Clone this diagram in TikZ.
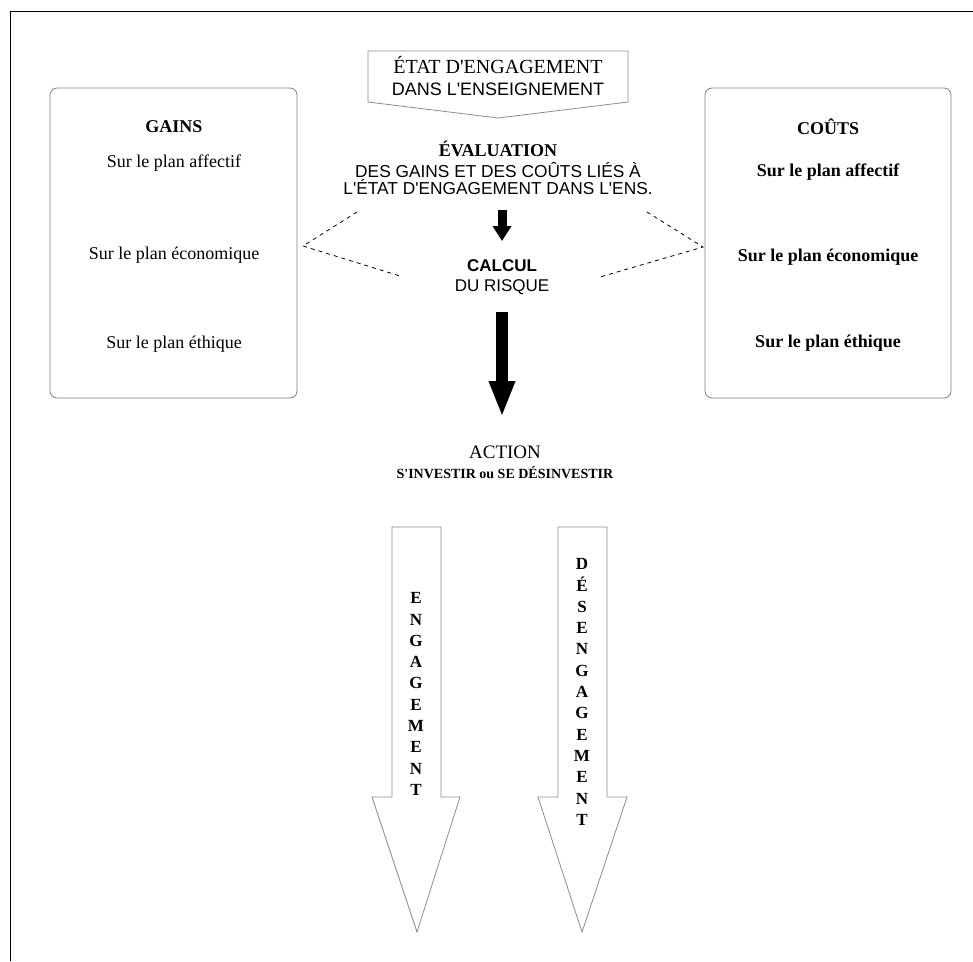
\documentclass[tikz,border=0pt]{standalone}
\usepackage{fontspec}
\setmainfont{Liberation Serif}
\setsansfont{Liberation Sans}
\usetikzlibrary{arrows.meta}
\newcommand{\apos}{\textquotesingle}
\begin{document}
\begin{tikzpicture}[x=1pt,y=-1pt]
	\tikzstyle{plan}=[font=\fontsize{18}{21}\selectfont,inner sep=0pt]
	\tikzstyle{planbold}=[font=\fontsize{18}{21}\selectfont\bfseries,inner sep=0pt]
	\tikzstyle{titre}=[font=\fontsize{18}{21}\selectfont\bfseries,inner sep=0pt]
	\tikzstyle{pbox}=[draw=black!50,line width=0.8pt,rounded corners=7pt]
	%\tikzstyle{pbox}=[draw=black,rounded corners=7pt]
	\tikzstyle{hollow}=[draw=black!45,line width=0.8pt]
	\tikzstyle{letters}=[font=\fontsize{17}{21.3}\selectfont\bfseries,align=center,inner sep=0pt]
	\tikzstyle{risk} = [dashed,line width=0.8pt,dash pattern=on 4pt off 4pt]
	\useasboundingbox (0,0) rectangle (973,961);
	\draw[line width=1pt] (10,961) -- (10,11) -- (973,11);
	% etat d'engagement
	\draw[hollow] (368,51) -- (628,51) -- (628,102) -- (498,118) -- (368,102) -- cycle;
	\node[align=center,inner sep=0pt,font=\fontsize{20}{22}\selectfont] (etat) at (498,76)
		{\'ETAT D\apos ENGAGEMENT\\ \fontsize{18}{22}\selectfont\sffamily DANS L\apos ENSEIGNEMENT};
	% gains and couts
	\draw[pbox] (50,88) rectangle (297,398);
	\draw[pbox] (705,88) rectangle (951,398);
	\node[titre] (gains) at (174,127) {GAINS};
	\node[plan] (g-aff) at (174,163) {Sur le plan affectif};
	\node[plan] (g-eco) at (174,255) {Sur le plan \'economique};
	\node[plan] (g-eth) at (174,344) {Sur le plan \'ethique};
	\node[titre] (couts) at (828,127) {CO\^UTS};
	\node[planbold] (c-aff) at (828,172) {Sur le plan affectif};
	\node[planbold] (c-eco) at (828,257) {Sur le plan \'economique};
	\node[planbold] (c-eth) at (828,343) {Sur le plan \'ethique};
	% evaluation and risk
	\node[align=center,inner sep=0pt,font=\fontsize{17.3}{17}\selectfont\sffamily] (eval) at (498,168)
		{{\rmfamily\bfseries\fontsize{18}{25}\selectfont \'EVALUATION}\\[4pt]
		DES GAINS ET DES CO\^UTS LI\'ES \`A\\ L\apos\'ETAT D\apos ENGAGEMENT DANS L\apos ENS.};
	\node[align=center,inner sep=0pt,font=\fontsize{17}{20}\selectfont\sffamily] (calcul) at (502,277)
		{\textbf{CALCUL}\\ DU RISQUE};
	\coordinate (eval-out) at (502,210);
	\coordinate (calc-in) at (502,241);
	\draw[line width=9pt,-{Triangle[width=18pt,length=15pt]}] (eval-out) -- (calc-in);
	\draw[risk] (357,212) -- (303,246) -- (400,276);
	\draw[risk] (647,212) -- (703,247) -- (600,277);
	% action
	\node[align=center,inner sep=0pt,font=\fontsize{14}{20}\selectfont] (action) at (505,462)
		{{\fontsize{19}{20}\selectfont ACTION}\\ \textbf{S\apos INVESTIR ou SE D\'ESINVESTIR}};
	\coordinate (calc-out) at (502,312);
	\coordinate (act-in) at (502,417);
	\draw[line width=12pt,-{Triangle[width=24pt,length=36pt]}] (calc-out) -- (act-in);
	% engagement / desengagement
	\draw[hollow] (392,527) -- (441,527) -- (441,797) -- (460,797) -- (417,932) -- (372,797) -- (392,797) -- cycle;
	\draw[hollow] (558,527) -- (607,527) -- (607,797) -- (627,797) -- (582,932) -- (538,797) -- (558,797) -- cycle;
	\node[letters] (engag) at (416,694) {E\\N\\G\\A\\G\\E\\M\\E\\N\\T};
	\node[letters] (desengag) at (582,692) {D\\\'E\\S\\E\\N\\G\\A\\G\\E\\M\\E\\N\\T};
\end{tikzpicture}
\end{document}
